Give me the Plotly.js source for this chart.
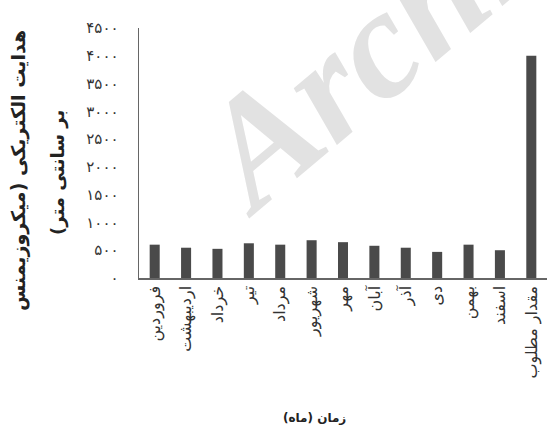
<!DOCTYPE html>
<html>
<head>
<meta charset="utf-8">
<script src="https://cdn.plot.ly/plotly-3.0.1.min.js"></script>
<style>html,body{margin:0;padding:0;background:#fff;}</style>
</head>
<body>
<div id="chart" style="width:547px;height:438px;"></div>
<script>
const months = ["فروردین","اردیبهشت","خرداد","تیر","مرداد","شهریور","مهر","آبان","آذر","دی","بهمن","اسفند","مقدار مطلوب"];
const conductivity = [600, 545, 525, 625, 600, 680, 645, 580, 545, 470, 600, 500, 4000];
const yTickVals = [0, 500, 1000, 1500, 2000, 2500, 3000, 3500, 4000, 4500];
const yTickText = ["۰","۵۰۰","۱۰۰۰","۱۵۰۰","۲۰۰۰","۲۵۰۰","۳۰۰۰","۳۵۰۰","۴۰۰۰","۴۵۰۰"];
const yTitleLine1 = "هدایت الکتریکی (میکروزیمنس";
const yTitleLine2 = "بر سانتی متر)";
const xTitle = "زمان (ماه)";
const RLM = "\u200F";

const trace = {
  type: "bar",
  x: months,
  y: conductivity,
  marker: {color: "#4a4a4a"},
  hoverinfo: "none"
};

const layout = {
  width: 547, height: 438,
  margin: {l: 139, r: 0, t: 28, b: 160},
  paper_bgcolor: "#fff", plot_bgcolor: "rgba(0,0,0,0)",
  showlegend: false,
  bargap: 0.68,
  font: {family: "DejaVu Sans", color: "#222"},
  xaxis: {
    type: "category",
    tickangle: -90,
    showline: true, linecolor: "#666", linewidth: 1.5,
    ticks: "", showgrid: false, zeroline: false,
    tickfont: {size: 16, color: "#333"}
  },
  yaxis: {
    range: [0, 4500],
    tickvals: yTickVals, ticktext: yTickText,
    showline: true, linecolor: "#666", linewidth: 1.5,
    ticks: "", showgrid: false, zeroline: false,
    ticklabelstandoff: 16,
    tickfont: {size: 15, color: "#333"}
  },
  shapes: [{
    type: "rect", xref: "paper", yref: "paper", layer: "below",
    x0: 0.545, x1: 0.745, y0: 1.012, y1: 1.212,
    line: {width: 0}, fillcolor: "rgba(0,0,0,0)",
    label: {text: "<b><i>Archive</i></b>", textangle: -40, textposition: "middle center",
            font: {family: "Liberation Serif", size: 155, color: "#e2e2e2"}}
  }],
  annotations: [
    {text: "<b>" + RLM + yTitleLine1 + RLM + "</b>", textangle: -90, xref: "paper", yref: "paper",
     x: -0.2966, y: 0.432, xanchor: "center", yanchor: "middle", showarrow: false,
     font: {size: 19, color: "#222"}},
    {text: "<b>" + RLM + yTitleLine2 + RLM + "</b>", textangle: -90, xref: "paper", yref: "paper",
     x: -0.1985, y: 0.42, xanchor: "center", yanchor: "middle", showarrow: false,
     font: {size: 18, color: "#222"}},
    {text: "<b>" + RLM + xTitle + RLM + "</b>", xref: "paper", yref: "paper",
     x: 0.431, y: -0.56, xanchor: "center", yanchor: "middle", showarrow: false,
     font: {size: 12, color: "#222"}}
  ]
};

Plotly.newPlot("chart", [trace], layout, {staticPlot: true, displayModeBar: false});
</script>
</body>
</html>
